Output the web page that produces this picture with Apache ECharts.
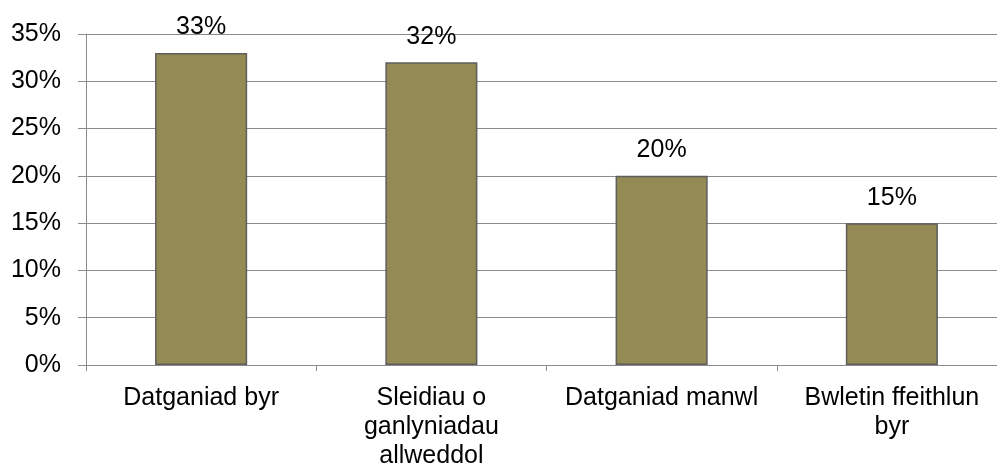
<!DOCTYPE html>
<html><head><meta charset="utf-8">
<script src="https://cdn.jsdelivr.net/npm/echarts@6/dist/echarts.min.js"></script>
<style>html,body{margin:0;padding:0;background:#fff}#c{width:997px;height:468px}</style>
</head><body><div id="c"></div>
<script>
const categories = ["Datganiad byr", "Sleidiau o\nganlyniadau\nallweddol", "Datganiad manwl", "Bwletin ffeithlun\nbyr"];
const values = [33, 32, 20, 15];
const yTicks = [0, 5, 10, 15, 20, 25, 30, 35];

const chart = echarts.init(document.getElementById('c'), null, {renderer: 'canvas'});
const font = 'Liberation Sans, Arial, sans-serif';
chart.setOption({
  animation: false,
  backgroundColor: '#ffffff',
  grid: {left: 86, right: -10, top: 34, bottom: 103, containLabel: false, outerBoundsMode: 'none'},
  xAxis: {
    type: 'category',
    data: categories,
    axisLine: {lineStyle: {color: '#8c8c8c', width: 1}},
    axisTick: {show: true, length: 6, lineStyle: {color: '#8c8c8c'}},
    axisLabel: {color: '#000', fontFamily: font, fontSize: 25, lineHeight: 29, margin: 19, interval: 0}
  },
  yAxis: {
    type: 'value', min: yTicks[0], max: yTicks[yTicks.length - 1], interval: 5,
    axisLine: {show: true, lineStyle: {color: '#8c8c8c', width: 1}},
    axisTick: {show: true, length: 8, lineStyle: {color: '#8c8c8c'}},
    splitLine: {lineStyle: {color: '#8c8c8c', width: 1}},
    axisLabel: {color: '#000', fontFamily: font, fontSize: 25, margin: 25, formatter: v => v + '%'}
  },
  series: [{
    type: 'bar',
    data: values,
    barWidth: '40%',
    itemStyle: {color: '#948a54', borderColor: '#5e5e5e', borderWidth: 1.5},
    label: {show: true, position: 'top', distance: 13, color: '#000', fontFamily: font, fontSize: 25, formatter: p => p.value + '%'}
  }]
});
</script></body></html>
